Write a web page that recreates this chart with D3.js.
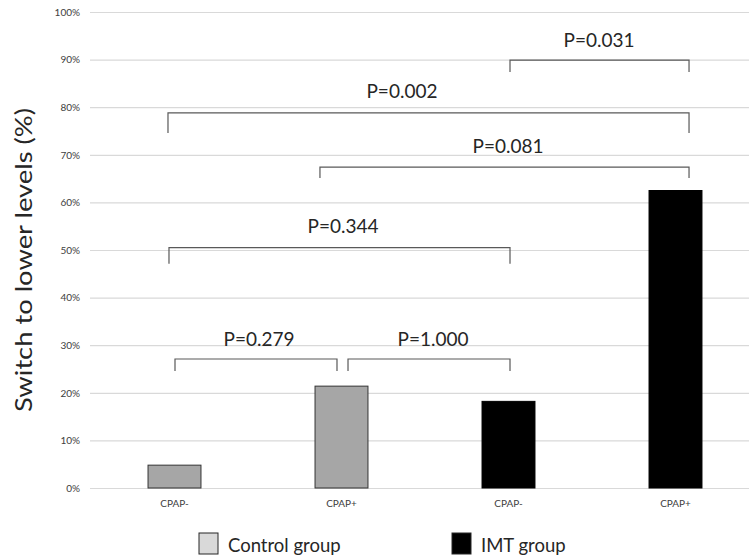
<!DOCTYPE html>
<html>
<head>
<meta charset="utf-8">
<script src="https://cdn.jsdelivr.net/npm/d3@7"></script>
<style>
  html, body { margin: 0; padding: 0; background: #fff; }
  svg { display: block; }
</style>
</head>
<body>
<svg id="chart" width="749" height="557"></svg>
<script>
// ---- data ----
const categories = ["CPAP-", "CPAP+", "CPAP-", "CPAP+"];
const groups = ["Control group", "Control group", "IMT group", "IMT group"];
const values = [4.8, 21.4, 18.2, 62.5];
const yTicks = [0, 10, 20, 30, 40, 50, 60, 70, 80, 90, 100];
const legendLabels = ["Control group", "IMT group"];

// brackets: x in category units (0..3), y in percent
const bracketLabels = ["P=0.279", "P=1.000", "P=0.344", "P=0.081", "P=0.002", "P=0.031"];
const bracketX1 = [0.003, 1.039, -0.033, 0.871, -0.039, 2.009];
const bracketX2 = [0.973, 2.009, 2.009, 3.081, 3.081, 3.081];
const bracketTop = [27.1, 27.1, 50.5, 67.4, 78.8, 89.9];
const bracketBottom = [24.6, 24.6, 47.1, 65.1, 74.6, 87.4];
const labelX = [0.506, 1.548, 1.009, 1.997, 1.362, 2.542];
const labelY = [29.8, 29.8, 53.6, 70.4, 81.9, 92.6];

// ---- layout ----
const svg = d3.select("#chart");
const plotLeft = 91, plotRight = 759, y0 = 488, y100 = 12;
const font = "Lato, 'Open Sans', sans-serif";

const x = d3.scaleBand()
  .domain(d3.range(categories.length))
  .range([plotLeft, plotRight])
  .paddingInner(0.683)
  .paddingOuter(0.3415);

const xc = d3.scaleLinear()
  .domain([0, categories.length - 1])
  .range([x(0) + x.bandwidth() / 2, x(categories.length - 1) + x.bandwidth() / 2]);

const y = d3.scaleLinear().domain([0, 100]).range([y0, y100]);

const fillFor = { "Control group": "#a6a6a6", "IMT group": "#000000" };
const legendFill = { "Control group": "#d9d9d9", "IMT group": "#000000" };

// gridlines + y tick labels
const yAxis = d3.axisLeft(y)
  .tickValues(yTicks)
  .tickFormat(d => d + "%")
  .tickSize(-(749 - 90))
  .tickPadding(10);

const gy = svg.append("g").attr("transform", "translate(90,0)").call(yAxis);
gy.select(".domain").remove();
gy.selectAll(".tick line").attr("stroke", "#d9d9d9").attr("stroke-width", 1.2);
gy.selectAll(".tick text")
  .attr("font-family", font)
  .attr("font-size", 10)
  .attr("fill", "#404040");

// bars
svg.append("g").selectAll("rect")
  .data(values)
  .join("rect")
  .attr("x", (d, i) => x(i))
  .attr("width", x.bandwidth())
  .attr("y", d => y(d))
  .attr("height", d => y(0) - y(d))
  .attr("fill", (d, i) => fillFor[groups[i]])
  .attr("stroke", (d, i) => groups[i] === "IMT group" ? "#000" : "#333")
  .attr("stroke-width", 1);

// x category labels
const xAxis = d3.axisBottom(x).tickFormat(i => categories[i]).tickSize(0).tickPadding(12);
const gx = svg.append("g").attr("transform", `translate(0,${y0})`).call(xAxis);
gx.select(".domain").remove();
gx.selectAll(".tick text")
  .attr("font-family", font)
  .attr("font-size", 10)
  .attr("fill", "#404040");

// brackets
const bg = svg.append("g");
bracketLabels.forEach((lab, i) => {
  const xa = xc(bracketX1[i]), xb = xc(bracketX2[i]);
  const yt = y(bracketTop[i]), yb = y(bracketBottom[i]);
  bg.append("path")
    .attr("d", `M${xa},${yb}V${yt}H${xb}V${yb}`)
    .attr("fill", "none")
    .attr("stroke", "#595959")
    .attr("stroke-width", 1.2);
  bg.append("text")
    .attr("x", xc(labelX[i]))
    .attr("y", y(labelY[i]))
    .attr("text-anchor", "middle")
    .attr("font-family", font)
    .attr("font-size", 19)
    .attr("fill", "#262626")
    .text(lab);
});

// y axis title
svg.append("text")
  .attr("transform", "translate(32,260) rotate(-90)")
  .attr("text-anchor", "middle")
  .attr("font-family", font)
  .attr("font-size", 23)
  .attr("textLength", 304)
  .attr("lengthAdjust", "spacingAndGlyphs")
  .attr("fill", "#262626")
  .text("Switch to lower levels (%)");

// legend
const legendX = [199, 452];
const lg = svg.append("g");
legendLabels.forEach((lab, i) => {
  lg.append("rect")
    .attr("x", legendX[i]).attr("y", 533)
    .attr("width", 19).attr("height", 21)
    .attr("fill", legendFill[lab])
    .attr("stroke", "#262626").attr("stroke-width", 1);
  lg.append("text")
    .attr("x", legendX[i] + 29).attr("y", 552)
    .attr("font-family", font)
    .attr("font-size", 18.5)
    .attr("fill", "#262626")
    .text(lab);
});
</script>
</body>
</html>
